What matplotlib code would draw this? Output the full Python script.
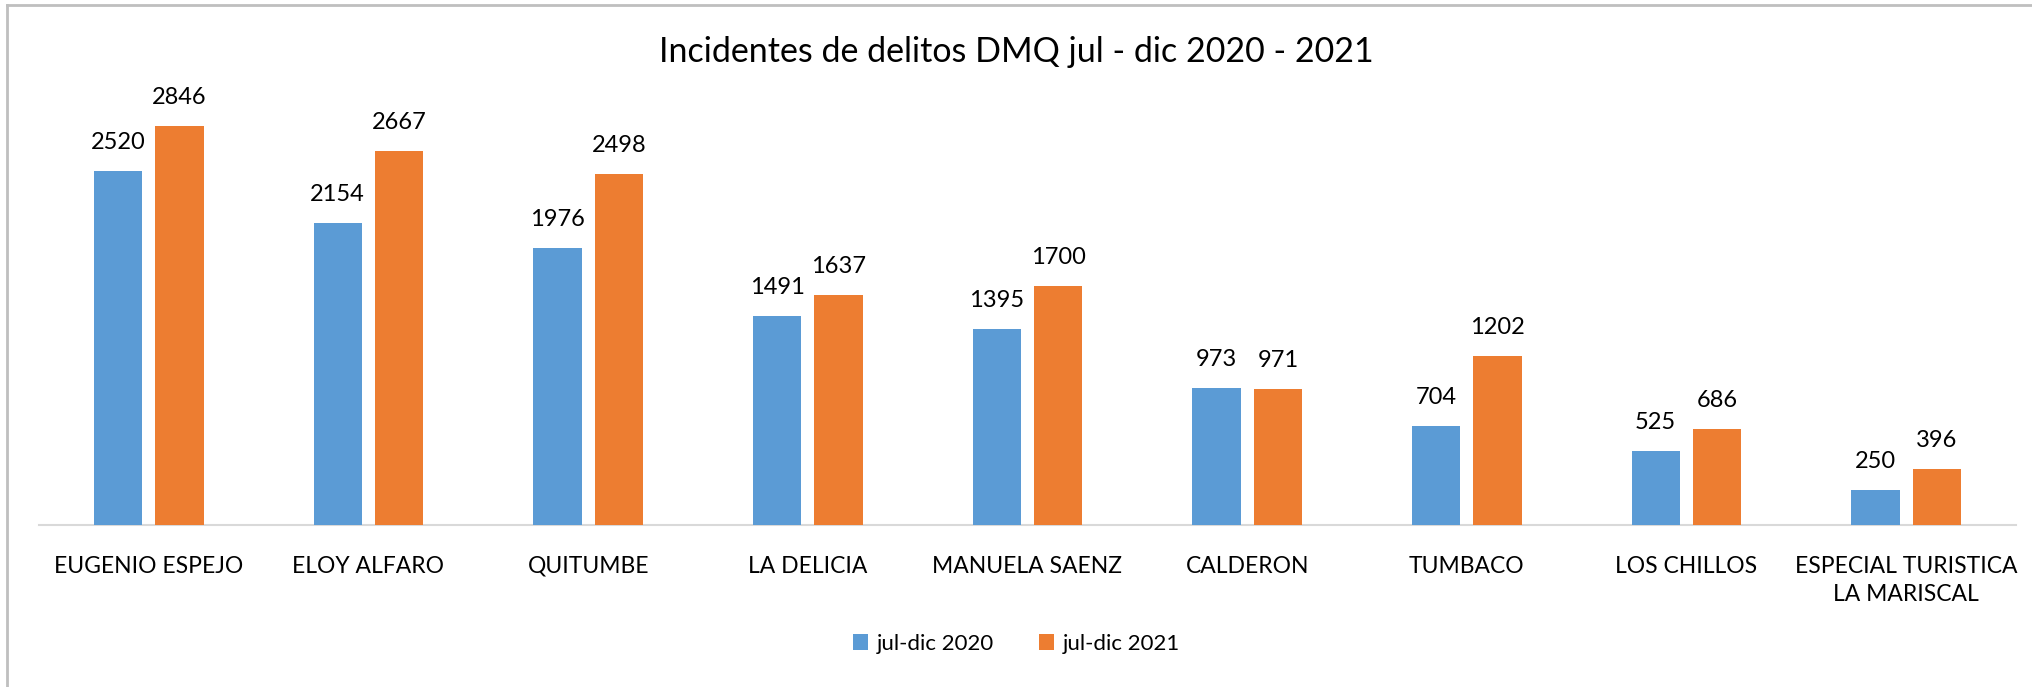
import numpy as np
import matplotlib
matplotlib.use("Agg")
import matplotlib.pyplot as plt
from matplotlib.lines import Line2D

categories = ["EUGENIO ESPEJO", "ELOY ALFARO", "QUITUMBE", "LA DELICIA", "MANUELA SAENZ",
              "CALDERON", "TUMBACO", "LOS CHILLOS", "ESPECIAL TURISTICA\nLA MARISCAL"]
jul_dic_2020 = [2520, 2154, 1976, 1491, 1395, 973, 704, 525, 250]
jul_dic_2021 = [2846, 2667, 2498, 1637, 1700, 971, 1202, 686, 396]
series_names = ["jul-dic 2020", "jul-dic 2021"]
title = "Incidentes de delitos DMQ jul - dic 2020 - 2021"

plt.rcParams['font.family'] = ['Lato', 'DejaVu Sans']

W, H = 2033, 687
fig = plt.figure(figsize=(W / 100, H / 100), dpi=100)
ax = fig.add_axes([39 / W, 1 - 525 / H, (2016 - 39) / W, (525 - 104) / H])

x = np.arange(len(categories))
blue, orange = '#5B9BD5', '#ED7D31'
b1 = ax.bar(x - 0.14, jul_dic_2020, 0.22, color=blue, label=series_names[0], zorder=3)
b2 = ax.bar(x + 0.14, jul_dic_2021, 0.22, color=orange, label=series_names[1], zorder=3)
ax.bar_label(b1, padding=13, fontsize=17, color='black')
ax.bar_label(b2, padding=13, fontsize=17, color='black')

ax.set_xlim(-0.5, len(categories) - 0.5)
ax.set_ylim(0, 3000)
ax.set_yticks([])
for s in ['top', 'right', 'left']:
    ax.spines[s].set_visible(False)
ax.spines['bottom'].set_color('#D9D9D9')
ax.spines['bottom'].set_linewidth(1.5)
ax.set_xticks(x)
ax.set_xticklabels(categories, fontsize=16.5, linespacing=1.45)
ax.tick_params(axis='x', length=0, pad=22)

fig.text(0.5, 1 - 52 / H, title, ha='center', va='center', fontsize=24.5)

ax.legend(loc='center', bbox_to_anchor=(0.5, 1 - 644 / H), bbox_transform=fig.transFigure,
          ncol=2, frameon=False, fontsize=16, handlelength=0.7, handleheight=0.7,
          columnspacing=2.0, handletextpad=0.4)

# chart area border (left and top edges visible)
fig.add_artist(Line2D([7 / W, 7 / W], [0, 1 - 5 / H], color='#BFBFBF', lw=2, transform=fig.transFigure))
fig.add_artist(Line2D([7 / W, 1], [1 - 5 / H, 1 - 5 / H], color='#BFBFBF', lw=2, transform=fig.transFigure))

fig.savefig("out.png", dpi=100)
